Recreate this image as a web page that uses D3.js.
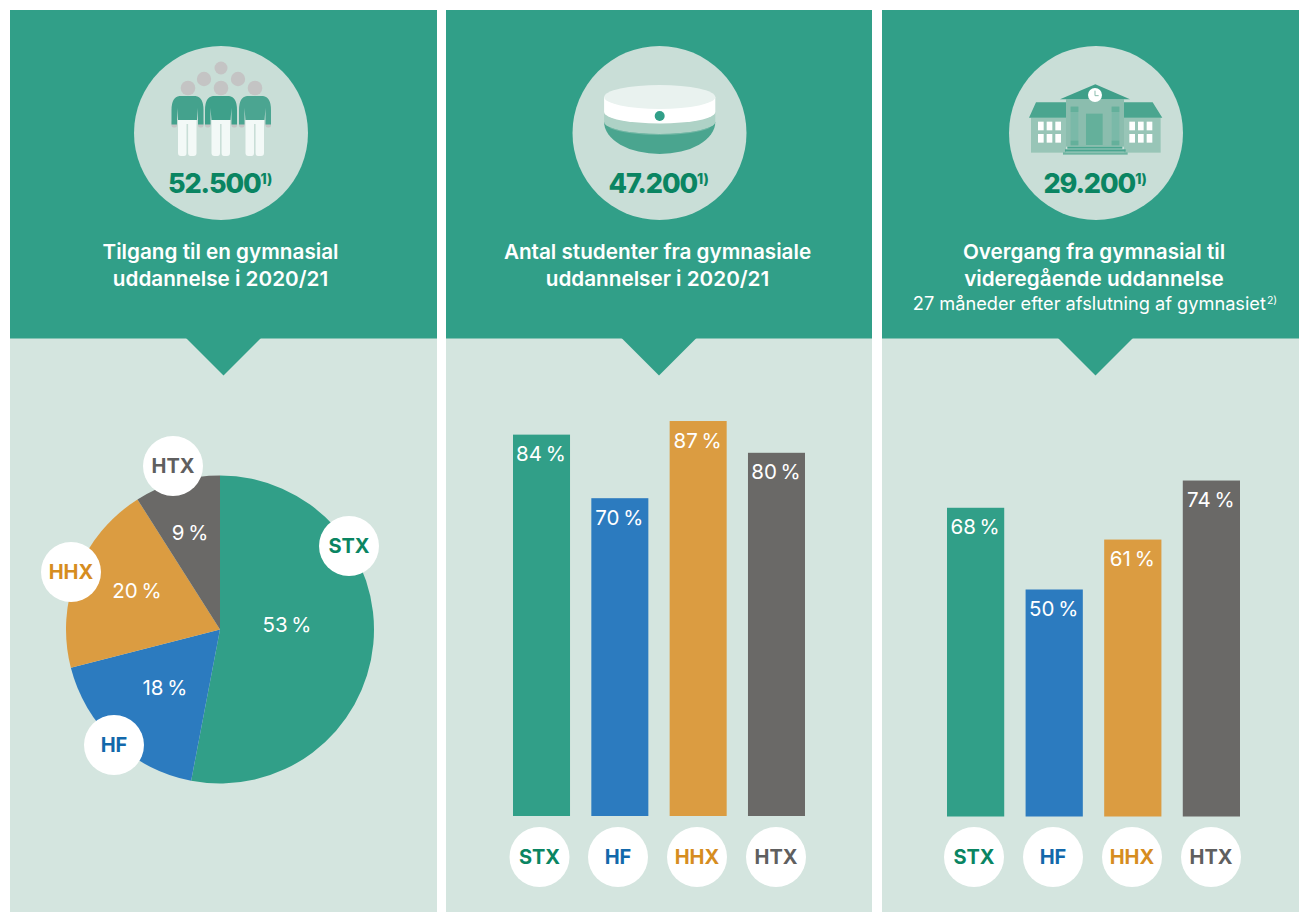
<!DOCTYPE html>
<html><head><meta charset="utf-8">
<script src="https://cdn.jsdelivr.net/npm/d3@7/dist/d3.min.js"></script>
<style>html,body{margin:0;padding:0;background:#fff}svg{display:block}text{font-family:Inter,sans-serif}</style>
</head><body><svg id="c" width="1299" height="912"></svg>
<script>
const categories = ["STX","HF","HHX","HTX"];
const pieValues = [53,18,20,9];
const studentValues = [84,70,87,80];
const transitionValues = [68,50,61,74];
const totals = ["52.500","47.200","29.200"];
const totalNotes = ["1)","1)","1)"];
const titles = [["Tilgang til en gymnasial","uddannelse i 2020/21"],["Antal studenter fra gymnasiale","uddannelser i 2020/21"],["Overgang fra gymnasial til","videregående uddannelse"]];
const subtitle = "27 måneder efter afslutning af gymnasiet";
const subtitleNote = "2)";
const fills = ["#319f88","#2c7bbf","#db9c41","#6a6967"];
const inks = ["#0a8562","#1268ab","#d68d1f","#5f5f5f"];
const TEAL="#319f88", PALE="#d4e5df", DISC="#c9ded7", NUM="#0a8562";
const panels=[{x0:10,x1:437,cx:223.5,icx:221,tx:220.5},{x0:446,x1:872,cx:659,icx:659.5,tx:657.5},{x0:882,x1:1299,cx:1095.5,icx:1096,tx:1094}];
const svg=d3.select("#c");
const ink=d3.scaleOrdinal(categories,inks);

panels.forEach((p,i)=>{
  const g=svg.append("g");
  g.append("rect").attr("x",p.x0).attr("y",10).attr("width",p.x1-p.x0).attr("height",902).attr("fill",PALE);
  g.append("rect").attr("x",p.x0).attr("y",10).attr("width",p.x1-p.x0).attr("height",328.5).attr("fill",TEAL);
  g.append("path").attr("d",`M${p.cx-37.5},338 L${p.cx},375.5 L${p.cx+37.5},338Z`).attr("fill",TEAL);
  g.append("circle").attr("cx",p.icx).attr("cy",133).attr("r",87).attr("fill",DISC);
  const t=g.append("text").attr("x",p.icx-1).attr("y",193).attr("text-anchor","middle").attr("fill",NUM).attr("font-size",27).attr("font-weight",800).style("letter-spacing","-1.1px").text(totals[i]);
  t.append("tspan").attr("font-size",14).attr("dy",-9).style("letter-spacing","-0.2px").text(totalNotes[i]);
  titles[i].forEach((s,k)=>g.append("text").attr("x",p.tx).attr("y",258.5+k*27).attr("text-anchor","middle").attr("fill","#fff").attr("font-size",20.7).attr("font-weight",600).text(s));
});
const sub=svg.append("text").attr("x",1095).attr("y",310).attr("text-anchor","middle").attr("fill","#fff").attr("font-size",18.2).attr("font-weight",400).text(subtitle);
sub.append("tspan").attr("font-size",10.5).attr("dy",-6).attr("dx",1).text(subtitleNote);

// icon 1: people
const people=svg.append("g");
[[221,68,6.5],[204,79,7.2],[238,79,7.2],[188,88,7.3],[221,88,7.3],[255,88,7.3]].forEach(h=>people.append("circle").attr("cx",h[0]).attr("cy",h[1]).attr("r",h[2]).attr("fill","#c4c4c4"));
[[187.5,"#44a28d"],[221,"#3ea08a"],[255,"#4ba591"]].forEach(([c,col])=>{
  const g=people.append("g").attr("transform",`translate(${c},0)`);
  g.append("rect").attr("x",-16).attr("y",120).attr("width",5.5).attr("height",7.5).attr("rx",2).attr("fill","#c4c4c4");
  g.append("rect").attr("x",10.5).attr("y",120).attr("width",5.5).attr("height",7.5).attr("rx",2).attr("fill","#c4c4c4");
  g.append("path").attr("d","M-8,96 H8 Q16,97 16,110 V124.5 H10.5 V108 L9.5,120 H-9.5 L-10.5,108 V124.5 H-16 V110 Q-16,97 -8,96Z").attr("fill",col);
  g.append("path").attr("d","M-9.5,120 H9 V153 Q9,156 6,156 H3 Q0.6,156 0.6,153 V124 H-1 V153 Q-1,156 -3.5,156 H-6.5 Q-9.5,156 -9.5,153Z").attr("fill","#f3f9f7");
});

// icon 2: student cap
const cap=svg.append("g").attr("transform","translate(659.7,0)");
cap.append("path").attr("d","M-55.6,122 A55.6,32 0 0 0 55.6,122Z").attr("fill","#4aa58f");
cap.append("path").attr("d","M-55.6,112 V122 A55.6,12 0 0 0 55.6,122 V112Z").attr("fill","#aed2c6");
cap.append("path").attr("d","M-50,127.5 A55.6,12.5 0 0 0 50,127.5").attr("fill","none").attr("stroke","#8fc4b5").attr("stroke-width",0.6);
cap.append("path").attr("d","M-55.6,97 V112 A55.6,11.5 0 0 0 55.6,112 V97Z").attr("fill","#fff");
cap.append("ellipse").attr("cx",0).attr("cy",97).attr("rx",55.6).attr("ry",12).attr("fill","#e9f2ef");
cap.append("circle").attr("cx",0).attr("cy",116).attr("r",5).attr("fill",TEAL);

// icon 3: building
const b=svg.append("g").attr("transform","translate(1005,40) scale(0.3333)");
const R=(x,y,w,h,f)=>b.append("rect").attr("x",x).attr("y",y).attr("width",w).attr("height",h).attr("fill",f);
R(78,233,105,105,"#98c5b7");R(357,233,110,105,"#98c5b7");
b.append("path").attr("d","M72,233 L93,187 H183 V233Z M357,187 H443 L472,233 H357Z").attr("fill","#4aa58f");
R(183,178,174,142,"#8bbdae");
b.append("path").attr("d","M165,178 L271,133 L375,178Z").attr("fill","#3f9f89");
[197,320].forEach(x=>{R(x,200,23,115,"#7ab9a8");R(x,200,23,16,"#64b09b");R(x,302,23,14,"#64b09b");});
R(243,221,50,94,"#64b09b");
R(187,320,165,6,"#4aa58f");R(180,328,182,7,"#4aa58f");R(174,337,194,7,"#6db3a0");
[99,125,151,373,399,425].forEach(x=>[245,282].forEach(y=>R(x,y,17,26,"#fff")));
b.append("circle").attr("cx",270).attr("cy",165).attr("r",21).attr("fill","#fff");
b.append("path").attr("d","M270,152 V167 H281").attr("fill","none").attr("stroke","#8bbdae").attr("stroke-width",3);

// helpers
function badge(g,cat,x,y){
  g.append("circle").attr("cx",x).attr("cy",y).attr("r",30).attr("fill","#fff");
  g.append("text").attr("x",x).attr("y",y+7).attr("text-anchor","middle").attr("font-size",20).attr("font-weight",700).attr("fill",ink(cat)).text(cat);
}
const valueText=(g,x,y,v)=>g.append("text").attr("x",x).attr("y",y).attr("text-anchor","middle").attr("font-size",20.5).attr("font-weight",400).attr("fill","#fff").style("word-spacing","-2px").text(v+" %");

// pie
const pieG=svg.append("g").attr("transform","translate(220,629.5)");
const arcs=d3.pie().sort(null)(pieValues);
const arc=d3.arc().innerRadius(0).outerRadius(154);
pieG.selectAll("path").data(arcs).join("path").attr("d",arc).attr("fill",(d,i)=>fills[i]);
const pieLabelPos=[[287,632],[165,695],[137,598],[190,540]];
pieValues.forEach((v,i)=>valueText(svg,pieLabelPos[i][0],pieLabelPos[i][1],v));
const badgePos=[[349,546],[114,745],[71,572],[173,466]];
categories.forEach((c,i)=>badge(svg,c,badgePos[i][0],badgePos[i][1]));

// bars
function bars(vals,x0,x1,base,badgeXs){
  const x=d3.scaleBand().domain(categories).range([x0,x1]).paddingInner(0.272).paddingOuter(0);
  const y=d3.scaleLinear().domain([0,100]).range([base,base-454]);
  const g=svg.append("g");
  g.selectAll("rect").data(vals).join("rect")
    .attr("x",(d,i)=>x(categories[i])).attr("width",x.bandwidth())
    .attr("y",d=>y(d)).attr("height",d=>base-y(d)).attr("fill",(d,i)=>fills[i]);
  vals.forEach((v,i)=>{
    valueText(g,x(categories[i])+x.bandwidth()/2-0.5,y(v)+26.5,v);
    badge(g,categories[i],badgeXs[i],857);
  });
}
bars(studentValues,513,805,816,[539.5,618,697,776]);
bars(transitionValues,947,1240,816.5,[974,1053,1132,1211]);
</script></body></html>
